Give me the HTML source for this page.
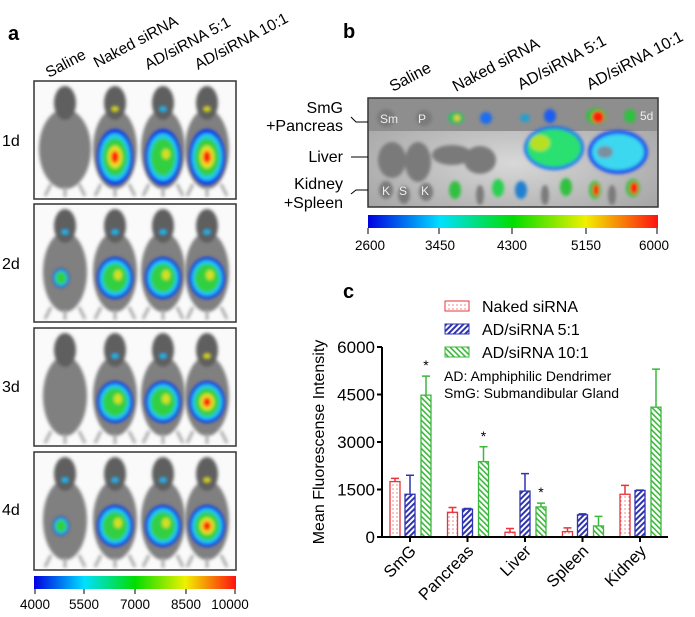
<!DOCTYPE html>
<html><head><meta charset="utf-8"><style>
body{margin:0;background:#fff;width:695px;height:617px;overflow:hidden;font-family:"Liberation Sans",Arial,sans-serif}
svg{position:absolute;left:0;top:0}
</style></head><body>
<svg id="fig" width="695" height="617" viewBox="0 0 695 617">
<defs>
<filter id="bl" x="-30%" y="-30%" width="160%" height="160%"><feGaussianBlur stdDeviation="1.6"/></filter>
<linearGradient id="jet" x1="0" x2="1" y1="0" y2="0">
<stop offset="0" stop-color="#0000e0"/><stop offset="0.25" stop-color="#00e0ff"/><stop offset="0.5" stop-color="#00dd00"/><stop offset="0.75" stop-color="#f0f000"/><stop offset="1" stop-color="#ff1010"/></linearGradient>
<radialGradient id="bbg" cx="0.5" cy="0.6" r="0.7"><stop offset="0" stop-color="#d8d8d8"/><stop offset="1" stop-color="#a0a0a0"/></radialGradient>
<pattern id="pDot" width="4" height="4" patternUnits="userSpaceOnUse"><rect width="4" height="4" fill="#fff"/><circle cx="1" cy="1" r="0.6" fill="#e8343a"/></pattern>
<pattern id="pBlue" width="4" height="4" patternUnits="userSpaceOnUse" patternTransform="rotate(45)"><rect width="4" height="4" fill="#fff"/><rect width="2" height="4" fill="#2f34b0"/></pattern>
<pattern id="pGreen" width="4" height="4" patternUnits="userSpaceOnUse" patternTransform="rotate(-45)"><rect width="4" height="4" fill="#fff"/><rect width="1.6" height="4" fill="#3cb83c"/></pattern>
</defs>

<!-- Panel a -->
<text x="8" y="40" font-size="20" font-weight="bold">a</text>
<g font-size="15.5">
<text transform="translate(49,78) rotate(-28)">Saline</text>
<text transform="translate(97,68) rotate(-28)">Naked siRNA</text>
<text transform="translate(148,70) rotate(-28)">AD/siRNA 5:1</text>
<text transform="translate(198,70) rotate(-28)">AD/siRNA 10:1</text>
</g>
<g id="panelA"></g>
<g font-size="16">
<text x="2" y="146">1d</text><text x="2" y="269">2d</text><text x="2" y="392">3d</text><text x="2" y="515">4d</text>
</g>
<rect x="34" y="576" width="202" height="13" fill="url(#jet)"/>
<g font-size="13.5" text-anchor="middle">
<path d="M35 589v5M84 589v5M135 589v5M186 589v5M235 589v5" stroke="#000"/>
<text x="35" y="609">4000</text><text x="84" y="609">5500</text><text x="135" y="609">7000</text><text x="186" y="609">8500</text><text x="230" y="609">10000</text>
</g>

<!-- Panel b -->
<text x="343" y="38" font-size="20" font-weight="bold">b</text>
<g font-size="16">
<text transform="translate(393,92) rotate(-28)">Saline</text>
<text transform="translate(456,92) rotate(-28)">Naked siRNA</text>
<text transform="translate(521,90) rotate(-28)">AD/siRNA 5:1</text>
<text transform="translate(590,90) rotate(-28)">AD/siRNA 10:1</text>
</g>
<g>
<rect x="368" y="98" width="290" height="109" fill="url(#bbg)" stroke="#333" stroke-width="1.5"/>
<rect x="369" y="99" width="288" height="32" fill="#8e8e8e"/>
<g filter="url(#bl)" fill="#7a7a7a">
<ellipse cx="392" cy="160" rx="14" ry="18"/><ellipse cx="418" cy="162" rx="13" ry="20"/>
<ellipse cx="452" cy="155" rx="20" ry="10"/><ellipse cx="480" cy="160" rx="16" ry="14"/>
<ellipse cx="480" cy="195" rx="4" ry="10"/><ellipse cx="545" cy="195" rx="4" ry="10"/><ellipse cx="612" cy="195" rx="4" ry="10"/>
<ellipse cx="404" cy="195" rx="6" ry="9"/><ellipse cx="386" cy="190" rx="7" ry="9"/><ellipse cx="426" cy="192" rx="7" ry="9"/>
<ellipse cx="386" cy="118" rx="9" ry="9"/><ellipse cx="424" cy="118" rx="8" ry="8"/>
</g>
<g filter="url(#bl)">
<ellipse cx="554" cy="148" rx="30" ry="22" fill="#1d6df0"/><ellipse cx="554" cy="148" rx="27" ry="19" fill="#29e070"/><ellipse cx="540" cy="143" rx="10" ry="8" fill="#b8e020"/>
<ellipse cx="618" cy="152" rx="30" ry="22" fill="#1d4df0"/><ellipse cx="618" cy="152" rx="26" ry="18" fill="#3ad8f0"/><ellipse cx="605" cy="152" rx="8" ry="6" fill="#7a8fa0"/>
<ellipse cx="456" cy="118" rx="8" ry="6" fill="#30c060"/><ellipse cx="457" cy="118" rx="3" ry="3" fill="#f0d020"/>
<ellipse cx="486" cy="118" rx="6" ry="6" fill="#1d6df0"/>
<ellipse cx="525" cy="118" rx="5" ry="4" fill="#20a0d0"/><ellipse cx="550" cy="116" rx="6" ry="7" fill="#1d5df0"/>
<ellipse cx="596" cy="116" rx="10" ry="8" fill="#30c040"/><ellipse cx="598" cy="117" rx="6" ry="6" fill="#ff1a10"/>
<ellipse cx="630" cy="116" rx="6" ry="7" fill="#30c040"/>
<ellipse cx="455" cy="190" rx="6" ry="9" fill="#30c040"/><ellipse cx="498" cy="188" rx="6" ry="9" fill="#2ad050"/>
<ellipse cx="521" cy="190" rx="6" ry="9" fill="#2080d0"/><ellipse cx="566" cy="187" rx="6" ry="9" fill="#30c040"/>
<ellipse cx="595" cy="190" rx="6" ry="9" fill="#30c040"/><ellipse cx="596" cy="190" rx="3" ry="6" fill="#ff1a10"/>
<ellipse cx="633" cy="188" rx="7" ry="9" fill="#30c040"/><ellipse cx="634" cy="188" rx="4" ry="6" fill="#ff1a10"/>
</g>
<g fill="#eee" font-size="12"><text x="380" y="123">Sm</text><text x="418" y="123">P</text><text x="382" y="195">K</text><text x="399" y="195">S</text><text x="421" y="195">K</text><text x="640" y="120">5d</text></g>
</g>
<g font-size="16" text-anchor="end">
<text x="343" y="113">SmG</text><text x="343" y="131">+Pancreas</text>
<text x="343" y="162">Liver</text>
<text x="343" y="189">Kidney</text><text x="343" y="208">+Spleen</text>
<path d="M351 117l5 5h12M351 157h17M351 194l5-4h12" fill="none" stroke="#000"/>
</g>
<rect x="368" y="215" width="290" height="13" fill="url(#jet)"/>
<g font-size="13.5" text-anchor="middle">
<path d="M368 228v6M439 228v6M512 228v6M586 228v6M657 228v6" stroke="#000"/>
<text x="370" y="250">2600</text><text x="440" y="250">3450</text><text x="512" y="250">4300</text><text x="586" y="250">5150</text><text x="654" y="250">6000</text>
</g>

<!-- Panel c -->
<text x="343" y="298" font-size="20" font-weight="bold">c</text>
<g font-size="16">
<g><rect x="445" y="301" width="24" height="10" fill="url(#pDot)" stroke="#e8343a"/><text x="482" y="312">Naked siRNA</text></g>
<g><rect x="445" y="324" width="24" height="10" fill="url(#pBlue)" stroke="#2f34b0"/><text x="482" y="335">AD/siRNA 5:1</text></g>
<g><rect x="445" y="347" width="24" height="10" fill="url(#pGreen)" stroke="#3cb83c"/><text x="482" y="358">AD/siRNA 10:1</text></g>
<text x="444" y="381" font-size="14">AD: Amphiphilic Dendrimer</text>
<text x="444" y="398" font-size="14">SmG: Submandibular Gland</text>
</g>
<text transform="translate(324,442) rotate(-90)" font-size="16" text-anchor="middle">Mean Fluorescense Intensity</text>
<g id="chart"></g>
</svg>
<script>
const NS="http://www.w3.org/2000/svg";
function mk(tag,attrs,parent){const e=document.createElementNS(NS,tag);for(const k in attrs)e.setAttribute(k,attrs[k]);parent.appendChild(e);return e;}

// ---- Panel a mice ----
const A=document.getElementById('panelA');
const boxTops=[81,204,328,452];
const mouseX=[65,115,163,207];
const levels=[[0,3,2,3],[1,2,2,2],[0,2,2,3],[1,2,2,3]];
const jetCols=["#1030f0","#20c8f0","#30d040","#e8e020","#ff1a10"];
const layerScale=[1,0.85,0.68,0.4,0.22];
boxTops.forEach((t,r)=>{
  const box=mk('rect',{x:34,y:t,width:202,height:118,fill:'#fafafa',stroke:'#333','stroke-width':1.5},A);
  
  
  mouseX.forEach((mx,c)=>{
    const g=mk('g',{},A);
    
    
    const cy=t+58;
    const s=mk('g',{filter:'url(#bl)'},g);
    mk('ellipse',{cx:mx,cy:cy+10,rx:c==0&&r==0?26:22,ry:40,fill:'#808080'},s);
    mk('ellipse',{cx:mx,cy:cy-36,rx:11,ry:17,fill:'#5e5e5e'},s);
    mk('path',{d:`M${mx-14} ${cy+45}l-6 12M${mx+14} ${cy+45}l6 12M${mx} ${cy+48}v10`,stroke:'#aaa','stroke-width':3},s);
    const L=levels[r][c];
    if(L>0){
      const b=mk('g',{filter:'url(#bl)'},g);
      const big=L>=2?1:0.45;
      const rx=big*18, ry=big*(r==0?28:21), by=cy+(r==0?18:16);
      const n=L==1?3:(L==2?3:5);
      for(let i=0;i<n;i++){mk('ellipse',{cx:mx+(L==1?-4:0),cy:by,rx:rx*layerScale[i],ry:ry*layerScale[i],fill:jetCols[i]},b);}
      if(L==2){mk('ellipse',{cx:mx+3,cy:by-3,rx:4,ry:5,fill:'#d8e020'},b);}
      mk('ellipse',{cx:mx,cy:cy-30,rx:4,ry:3,fill:L==3?'#d0d020':'#20b0f0'},b);
    }
  });
});

// ---- Panel c chart ----
const categories=["SmG","Pancreas","Liver","Spleen","Kidney"];
const naked=[1750,780,150,170,1350];
const nakedErr=[100,150,120,120,280];
const ad51=[1350,880,1450,700,1470];
const ad51Err=[600,20,550,30,10];
const ad101=[4480,2380,950,350,4100];
const ad101Err=[600,470,120,300,1200];
const yTicks=[0,1500,3000,4500,6000];
const sigStars=[true,true,true,false,false];

const C=document.getElementById('chart');
const y0=537,yTop=347,xAxis0=382,xAxis1=668;
const yScale=v=>y0-(v/6000)*(y0-yTop);
const gx=i=>410+i*57.5;
const series=[{v:naked,e:nakedErr,fill:'url(#pDot)',col:'#e8343a',off:-15,n:'naked'},
{v:ad51,e:ad51Err,fill:'url(#pBlue)',col:'#2f34b0',off:0,n:'ad-5-1'},
{v:ad101,e:ad101Err,fill:'url(#pGreen)',col:'#3cb83c',off:16,n:'ad-10-1'}];
series.forEach(s=>{
  s.v.forEach((v,i)=>{
    const x=gx(i)+s.off, w=10;
    const bar=mk('rect',{x:x-w/2,y:yScale(v),width:w,height:y0-yScale(v),fill:s.fill,stroke:s.col,'stroke-width':1.3},C);
    
    
    const eb=mk('path',{d:`M${x} ${yScale(v)}V${yScale(v+s.e[i])}M${x-4} ${yScale(v+s.e[i])}h8`,stroke:s.col,'stroke-width':1.5,fill:'none'},C);
    
    
  });
});
sigStars.forEach((st,i)=>{
  if(!st)return;
  const t=mk('text',{x:gx(i)+16,y:yScale(ad101[i]+ad101Err[i])-6,'font-size':14,'text-anchor':'middle'},C);
  t.textContent='*';
  
  
});
const ax=mk('path',{d:`M${xAxis0} ${yTop}V${y0}H${xAxis1}`,stroke:'#000','stroke-width':2,fill:'none'},C);


yTicks.forEach(v=>{
  mk('path',{d:`M${xAxis0-5} ${yScale(v)}h5`,stroke:'#000','stroke-width':2},C);
  const t=mk('text',{x:xAxis0-7,y:yScale(v)+6,'font-size':17,'text-anchor':'end'},C);
  t.textContent=v;
  
  
});
categories.forEach((c,i)=>{
  mk('path',{d:`M${gx(i)} ${y0}v5`,stroke:'#000','stroke-width':2},C);
  const t=mk('text',{transform:`translate(${gx(i)+7},${y0+15}) rotate(-45)`,'font-size':16.5,'text-anchor':'end'},C);
  t.textContent=c;
  
  
});
</script>
</body></html>
